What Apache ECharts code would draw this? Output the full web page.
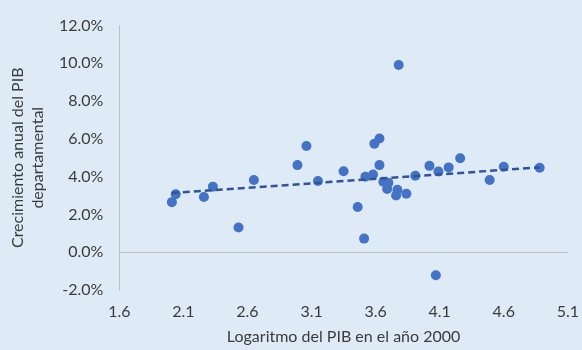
<!DOCTYPE html>
<html>
<head>
<meta charset="utf-8">
<script src="https://cdn.jsdelivr.net/npm/echarts@6/dist/echarts.min.js"></script>
<style>
html,body{margin:0;padding:0;background:#DEEAF6;}
#chart{width:582px;height:350px;}
</style>
</head>
<body>
<div id="chart"></div>
<script>
// Logaritmo del PIB en el año 2000
var logPIB = [2.01, 2.04, 2.26, 2.33, 2.53, 2.65, 2.99, 3.06, 3.15, 3.35, 3.46, 3.51, 3.52, 3.58, 3.59, 3.63, 3.63, 3.66, 3.70, 3.69, 3.77, 3.76, 3.84, 3.78, 3.91, 4.02, 4.07, 4.09, 4.17, 4.26, 4.49, 4.60, 4.88];
// Crecimiento anual del PIB departamental (%)
var crecimiento = [2.65, 3.07, 2.92, 3.47, 1.31, 3.82, 4.61, 5.62, 3.77, 4.29, 2.39, 0.72, 3.99, 4.11, 5.74, 6.02, 4.61, 3.73, 3.68, 3.35, 3.31, 3.00, 3.09, 9.91, 4.05, 4.57, -1.22, 4.27, 4.49, 4.97, 3.82, 4.52, 4.47];
// Tendencia lineal (extremos)
var trendX = [2.01, 4.88];
var trendY = [3.13, 4.49];
var xTicks = [1.6, 2.1, 2.6, 3.1, 3.6, 4.1, 4.6, 5.1];
var yTicks = [-2, 0, 2, 4, 6, 8, 10, 12];

var font = 'Lato';
var fs = 16;
var textColor = '#3B3B3B';

var points = logPIB.map(function (x, i) { return [x, crecimiento[i]]; });
var trend = trendX.map(function (x, i) { return [x, trendY[i]]; });

var chart = echarts.init(document.getElementById('chart'));
chart.setOption({
  backgroundColor: '#DEEAF6',
  animation: false,
  grid: { left: 117, right: 14, top: 25.5, bottom: 57.5 },
  xAxis: {
    type: 'value',
    min: xTicks[0],
    max: xTicks[xTicks.length - 1],
    interval: 0.1,
    axisLine: { show: false },
    axisTick: { show: false },
    splitLine: { show: false },
    axisLabel: {
      margin: 14,
      color: textColor,
      fontFamily: font,
      fontSize: fs,
      formatter: function (v) {
        for (var i = 0; i < xTicks.length; i++) {
          if (Math.abs(v - xTicks[i]) < 1e-6) return xTicks[i].toFixed(1);
        }
        return '';
      }
    },
    name: 'Logaritmo del PIB en el año 2000',
    nameLocation: 'middle',
    nameGap: 39,
    nameTextStyle: { color: textColor, fontFamily: font, fontSize: fs }
  },
  yAxis: {
    type: 'value',
    min: yTicks[0],
    max: yTicks[yTicks.length - 1],
    interval: 2,
    axisLine: { show: true, lineStyle: { color: '#BFBFBF', width: 1 } },
    axisTick: { show: false },
    splitLine: { show: false },
    axisLabel: {
      margin: 16,
      color: textColor,
      fontFamily: font,
      fontSize: fs,
      formatter: function (v) { return v.toFixed(1) + '%'; }
    },
    name: 'Crecimiento anual del PIB\ndepartamental',
    nameLocation: 'middle',
    nameRotate: 90,
    nameGap: 70,
    nameTextStyle: { color: textColor, fontFamily: font, fontSize: fs, lineHeight: 20 }
  },
  series: [
    {
      type: 'scatter',
      data: points,
      symbolSize: 10,
      itemStyle: { color: '#4472C4', opacity: 1 },
      z: 2,
      markLine: {
        silent: true,
        symbol: 'none',
        label: { show: false },
        lineStyle: { color: '#BFBFBF', width: 1, type: 'solid' },
        data: [{ yAxis: 0 }]
      }
    },
    {
      type: 'line',
      data: trend,
      symbol: 'none',
      lineStyle: { color: '#2F5597', width: 2.5, type: [7, 4] },
      z: 3
    }
  ]
});
</script>
</body>
</html>
